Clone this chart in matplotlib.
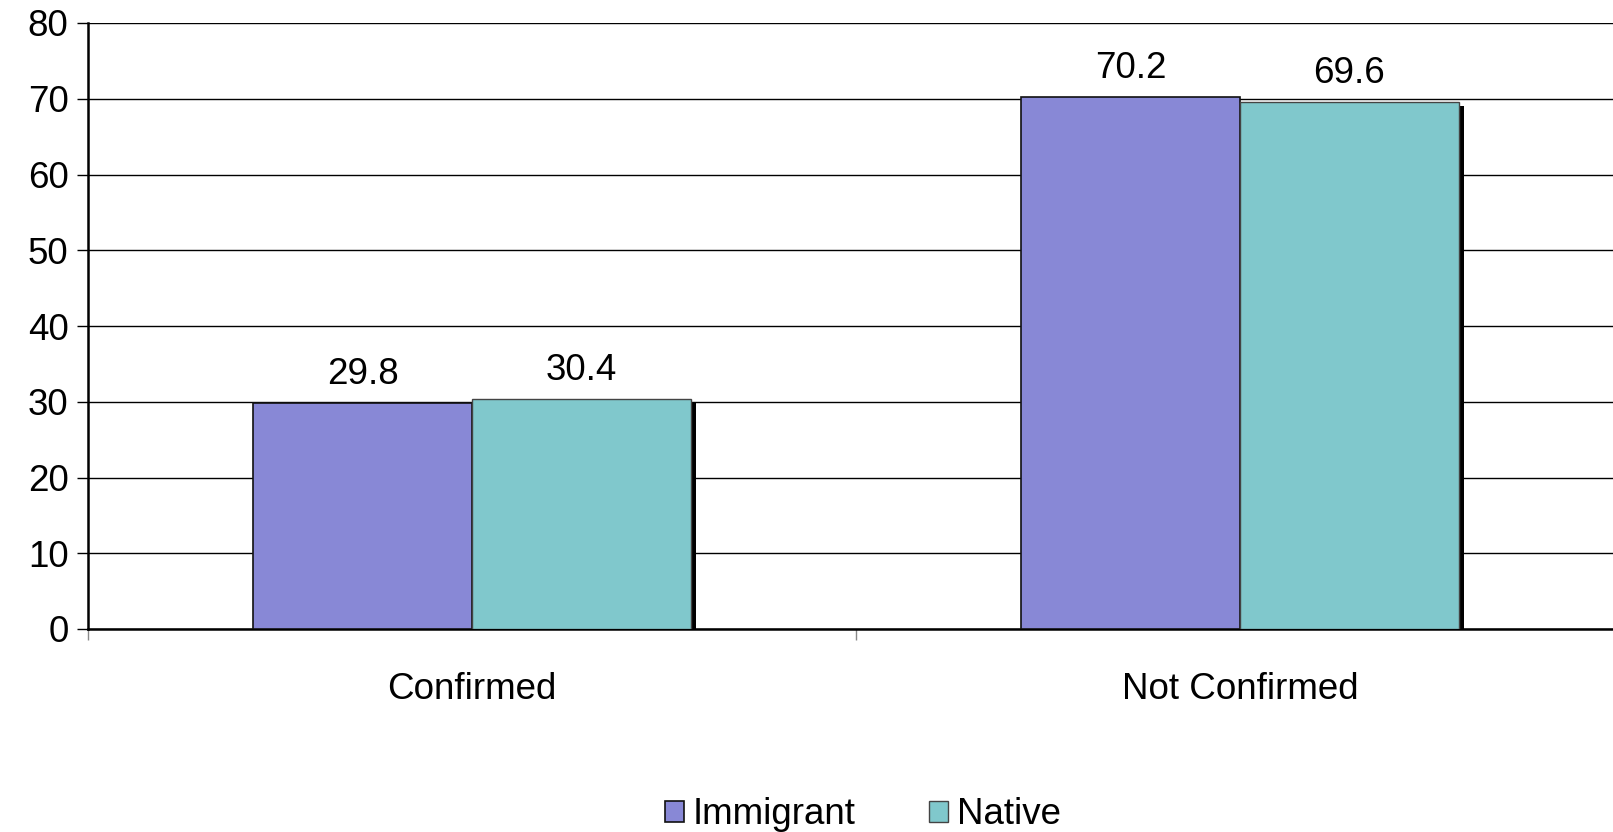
import numpy as np
import matplotlib.pyplot as plt
import matplotlib.patheffects as pe
from matplotlib.patches import Patch

categories = ["Confirmed", "Not Confirmed"]
immigrant = [29.8, 70.2]
native = [30.4, 69.6]
series_names = ["Immigrant", "Native"]

c_imm = "#8888d6"
c_nat = "#80c8cc"

plt.rcParams['font.family'] = ['Liberation Sans', 'DejaVu Sans']
fs = 26.5

fig = plt.figure(figsize=(16.13, 8.32), dpi=100)
ax = fig.add_axes([88 / 1613, 203 / 832, 1536 / 1613, 606 / 832])

x = np.arange(len(categories))
w = 0.285

b1 = ax.bar(x - w / 2, immigrant, w, color=c_imm, edgecolor="#111111", linewidth=1.2, zorder=3)
b2 = ax.bar(x + w / 2, native, w, color=c_nat, edgecolor="#444444", linewidth=1.0, zorder=3)
for p in b2:
    p.set_path_effects([pe.SimplePatchShadow(offset=(4, -3), shadow_rgbFace="black", alpha=1.0), pe.Normal()])

for bars, vals in ((b1, immigrant), (b2, native)):
    for p, v in zip(bars, vals):
        ax.annotate(f"{v:.1f}", (p.get_x() + p.get_width() / 2, v), xytext=(0, 8),
                    textcoords="offset points", ha="center", va="bottom", fontsize=fs)

ax.set_xlim(-0.5, 1.5)
ax.set_ylim(0, 80)
ax.set_yticks(np.arange(0, 81, 10))
ax.yaxis.grid(True, color="black", linewidth=1.0, zorder=0)
ax.set_axisbelow(True)
ax.tick_params(axis="y", direction="out", length=8, width=1, labelsize=fs, pad=6)

ax.set_xticks(x)
ax.set_xticklabels(categories, fontsize=fs)
ax.tick_params(axis="x", which="major", length=0, pad=31)
ax.set_xticks([-0.5, 0.5, 1.5], minor=True)
ax.tick_params(axis="x", which="minor", length=8, width=1, color="#888888", direction="out")

for s in ("top", "right"):
    ax.spines[s].set_visible(False)
ax.spines["left"].set_linewidth(1.8)
ax.spines["bottom"].set_linewidth(1.8)

handles = [Patch(facecolor=c_imm, edgecolor="#111111", linewidth=1.2),
           Patch(facecolor=c_nat, edgecolor="#444444", linewidth=1.0)]
fig.legend(handles, series_names, loc="center", bbox_to_anchor=(863 / 1613, 1 - 815 / 832),
           ncol=2, frameon=False, fontsize=fs, handlelength=0.5, handleheight=0.5,
           handletextpad=0.25, columnspacing=2.0)

fig.savefig("out.png", dpi=100)
